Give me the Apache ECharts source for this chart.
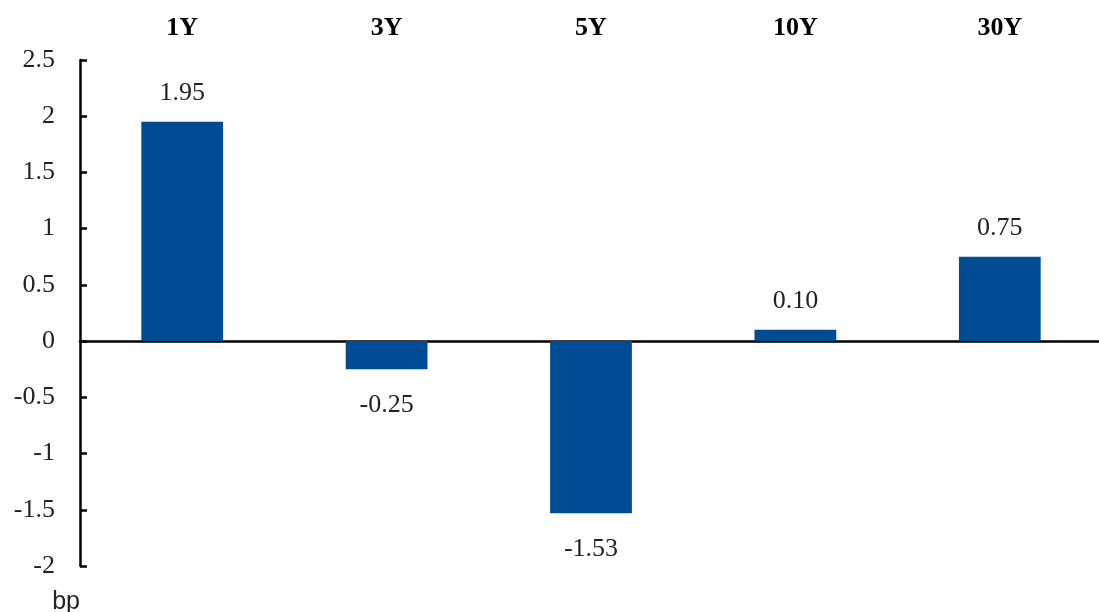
<!DOCTYPE html>
<html>
<head>
<meta charset="utf-8">
<script src="https://cdn.jsdelivr.net/npm/echarts@6/dist/echarts.min.js"></script>
<style>
  html, body { margin: 0; padding: 0; background: #fff; }
  #chart { width: 1099px; height: 612px; }
</style>
</head>
<body>
<div id="chart"></div>
<script>
var categories = ['1Y', '3Y', '5Y', '10Y', '30Y']
var values = [1.95, -0.25, -1.53, 0.10, 0.75]
var labels = ['1.95', '-0.25', '-1.53', '0.10', '0.75']

var serif = '"Liberation Serif", "Times New Roman", serif'

var chart = echarts.init(document.getElementById('chart'))
chart.setOption({
  backgroundColor: '#fff',
  animation: false,
  grid: {
    left: 80,
    right: -3,
    top: 60,
    bottom: 46,
    outerBoundsMode: 'none',
    containLabel: false
  },
  xAxis: [
    {
      type: 'category',
      data: categories,
      position: 'bottom',
      axisLine: { onZero: true, lineStyle: { color: '#000', width: 2.5 } },
      axisTick: { show: false },
      axisLabel: { show: false }
    },
    {
      type: 'category',
      data: categories,
      position: 'top',
      axisLine: { show: false },
      axisTick: { show: false },
      axisLabel: {
        margin: 19,
        fontFamily: serif,
        fontWeight: 'bold',
        fontSize: 26,
        color: '#000'
      }
    }
  ],
  yAxis: {
    type: 'value',
    min: -2,
    max: 2.5,
    interval: 0.5,
    name: 'bp',
    nameLocation: 'start',
    nameGap: 24,
    nameTextStyle: {
      align: 'right',
      verticalAlign: 'top',
      fontFamily: '"Liberation Sans", Arial, sans-serif',
      fontSize: 25,
      color: '#222'
    },
    axisLine: { show: true, lineStyle: { color: '#000', width: 2.5 } },
    axisTick: { show: true, inside: true, length: 7, lineStyle: { color: '#000', width: 2.5 } },
    splitLine: { show: false },
    axisLabel: {
      margin: 25,
      fontFamily: serif,
      fontSize: 26,
      color: '#222'
    }
  },
  series: [
    {
      type: 'bar',
      xAxisIndex: 0,
      barWidth: '40%',
      itemStyle: { color: '#004C94' },
      data: values.map(function (v, i) {
        return {
          value: v,
          label: {
            show: true,
            position: v < 0 ? 'bottom' : 'top',
            distance: v < 0 ? 23 : 16,
            formatter: labels[i],
            fontFamily: serif,
            fontSize: 26,
            color: '#222'
          }
        }
      })
    }
  ]
})
</script>
</body>
</html>
